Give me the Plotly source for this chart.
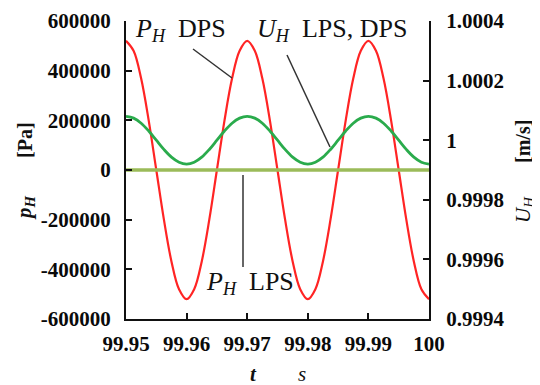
import plotly.graph_objects as go

# ---- data ----
t = [99.95, 99.95125, 99.9525, 99.95375, 99.955, 99.95625, 99.9575, 99.95875,
     99.96, 99.96125, 99.9625, 99.96375, 99.965, 99.96625, 99.9675, 99.96875,
     99.97, 99.97125, 99.9725, 99.97375, 99.975, 99.97625, 99.9775, 99.97875,
     99.98, 99.98125, 99.9825, 99.98375, 99.985, 99.98625, 99.9875, 99.98875,
     99.99, 99.99125, 99.9925, 99.99375, 99.995, 99.99625, 99.9975, 99.99875,
     100.0]

p_dps = [520000, 480000, 368000, 199000, 0, -199000, -368000, -480000,
         -520000, -480000, -368000, -199000, 0, 199000, 368000, 480000,
         520000, 480000, 368000, 199000, 0, -199000, -368000, -480000,
         -520000, -480000, -368000, -199000, 0, 199000, 368000, 480000,
         520000, 480000, 368000, 199000, 0, -199000, -368000, -480000,
         -520000]

p_lps = [0] * len(t)

u_h = [1.00008, 1.000074, 1.000057, 1.000031, 1.0, 0.999969, 0.999943, 0.999926,
       0.99992, 0.999926, 0.999943, 0.999969, 1.0, 1.000031, 1.000057, 1.000074,
       1.00008, 1.000074, 1.000057, 1.000031, 1.0, 0.999969, 0.999943, 0.999926,
       0.99992, 0.999926, 0.999943, 0.999969, 1.0, 1.000031, 1.000057, 1.000074,
       1.00008, 1.000074, 1.000057, 1.000031, 1.0, 0.999969, 0.999943, 0.999926,
       0.99992]

x_ticks = [99.95, 99.96, 99.97, 99.98, 99.99, 100.0]
x_labels = ["99.95", "99.96", "99.97", "99.98", "99.99", "100"]
yl_ticks = [-600000, -400000, -200000, 0, 200000, 400000, 600000]
yl_labels = ["-600000", "-400000", "-200000", "0", "200000", "400000", "600000"]
yr_ticks = [0.9994, 0.9996, 0.9998, 1.0, 1.0002, 1.0004]
yr_labels = ["0.9994", "0.9996", "0.9998", "1", "1.0002", "1.0004"]

# ---- layout geometry (page body adds an 8px offset) ----
OFF = 8
W, H = 540, 385
ML, MR, MT, MB = 126, 111, 21, 66
PW, PH = W - ML - MR, H - MT - MB

def px(xp):
    return (xp - ML) / PW

def py(yp):
    return (H - MB - yp) / PH

SERIF = "Liberation Serif"

fig = go.Figure()
fig.add_trace(go.Scatter(x=t, y=p_dps, mode="lines", line=dict(color="#ff2424", width=2.2, shape="spline"),
                         yaxis="y", showlegend=False))
fig.add_trace(go.Scatter(x=t, y=p_lps, mode="lines", line=dict(color="#9bbb59", width=3.5),
                         yaxis="y", showlegend=False))
fig.add_trace(go.Scatter(x=t, y=u_h, mode="lines", line=dict(color="#2aab4c", width=2.8, shape="spline"),
                         yaxis="y2", showlegend=False))

tickfont = dict(family=SERIF, size=21, color="#0a0a0a", weight="bold")
axline = dict(showline=True, linecolor="#111", linewidth=2, showgrid=False, zeroline=False,
              ticks="inside", ticklen=6, tickwidth=2, tickcolor="#111", tickfont=tickfont,
              automargin=False)

fig.update_layout(
    width=W - OFF, height=H - OFF,
    margin=dict(l=ML - OFF, r=MR, t=MT - OFF, b=MB, pad=0, autoexpand=False),
    paper_bgcolor="white", plot_bgcolor="white",
    xaxis=dict(range=[99.95, 100.0], tickvals=x_ticks, ticktext=x_labels, ticklabelstandoff=5, **axline),
    yaxis=dict(range=[-600000, 600000], tickvals=yl_ticks, ticktext=yl_labels, ticklabelstandoff=9, **axline),
    yaxis2=dict(range=[0.9994, 1.0004], tickvals=yr_ticks, ticktext=yr_labels, overlaying="y", side="right",
                ticklabelstandoff=11, **axline),
)

# leader lines (paper coords converted from pixel positions)
lines = [((193, 49), (232, 78)), ((287, 55), (330, 147)), ((243, 175), (243, 267))]
for (x0, y0), (x1, y1) in lines:
    fig.add_shape(type="line", xref="paper", yref="paper", x0=px(x0), y0=py(y0), x1=px(x1), y1=py(y1),
                  line=dict(color="#333", width=1.5))

def ann(text, x, y, size, xanchor="left", rot=0, bold=False, yanchor="middle"):
    fig.add_annotation(text=text, xref="paper", yref="paper", x=px(x), y=py(y), showarrow=False,
                       xanchor=xanchor, yanchor=yanchor, textangle=rot,
                       font=dict(family=SERIF, size=size, color="#111", weight="bold" if bold else "normal"))

PH_TXT = "<i>P</i><sub><i>H</i></sub>"
ann(PH_TXT + "  DPS", 133, 30, 26)
ann("<i>U</i><sub><i>H</i></sub>  LPS, DPS", 255, 30, 26)
ann(PH_TXT + "  LPS", 204, 283, 26)

# axis titles
ann("[Pa]", 25, 140, 20, xanchor="center", rot=-90, bold=True)
ann("<i>p</i><sub><i>H</i></sub>", 25, 208, 21, xanchor="center", rot=-90, bold=True)
ann("[m/s]", 523, 142, 20, xanchor="center", rot=-90, bold=True)
ann("<i>U</i><sub><i>H</i></sub>", 524, 210, 21, xanchor="center", rot=-90)
ann("<i>t</i>", 253, 374, 21, xanchor="center", bold=True)
ann("<i>s</i>", 302, 374, 21, xanchor="center")

fig.write_html("out.html")
